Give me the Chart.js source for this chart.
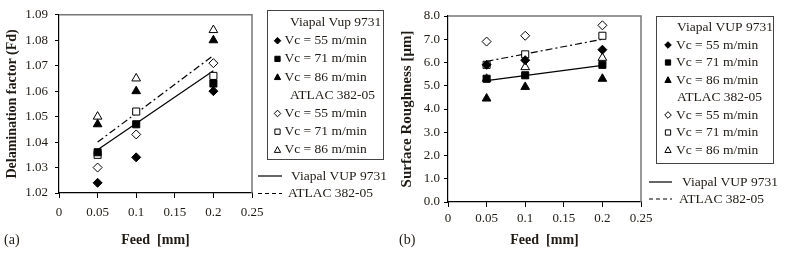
<!DOCTYPE html>
<html>
<head>
<meta charset="utf-8">
<script src="https://cdn.jsdelivr.net/npm/chart.js"></script>
<style>
  body { margin: 0; background: #fff; width: 789px; height: 261px; overflow: hidden; position: relative; }
  .wrap { position: absolute; top: 0; height: 261px; }
  #wrapA { left: 0; width: 395px; }
  #wrapB { left: 395px; width: 394px; }
</style>
</head>
<body>
<div class="wrap" id="wrapA"><canvas id="chartA" width="395" height="261"></canvas></div>
<div class="wrap" id="wrapB"><canvas id="chartB" width="394" height="261"></canvas></div>
<script>
// feed values (x) and tick labels
const feed = [0.05, 0.1, 0.2];
const trendFeed = [0.05, 0.2];
const feedTicks = [0, 0.05, 0.1, 0.15, 0.2, 0.25];
const speedLabels = ['Vc = 55 m/min', 'Vc = 71 m/min', 'Vc = 86 m/min'];

// (a) delamination factor
const fdViapal55 = [1.024, 1.034, 1.060];
const fdViapal71 = [1.036, 1.047, 1.063];
const fdViapal86 = [1.047, 1.060, 1.080];
const fdAtlac55 = [1.030, 1.043, 1.071];
const fdAtlac71 = [1.035, 1.052, 1.066];
const fdAtlac86 = [1.050, 1.065, 1.084];
const fdTrendViapal = [1.037, 1.068];
const fdTrendAtlac = [1.040, 1.074];
const fdTicks = [1.02, 1.03, 1.04, 1.05, 1.06, 1.07, 1.08, 1.09];

// (b) surface roughness
const raViapal55 = [5.9, 6.1, 6.55];
const raViapal71 = [5.3, 5.45, 5.9];
const raViapal86 = [4.45, 4.95, 5.3];
const raAtlac55 = [6.9, 7.15, 7.6];
const raAtlac71 = [5.9, 6.35, 7.15];
const raAtlac86 = [5.3, 5.8, 6.2];
const raTrendViapal = [5.22, 5.88];
const raTrendAtlac = [6.05, 7.0];
const raTicks = [0, 1, 2, 3, 4, 5, 6, 7, 8];

const FONT = "'Liberation Serif', 'Times New Roman', serif";
const TXT = '#1f1a14';
const styles = ['rectRot', 'rect', 'triangle'];

function pts(xs, ys) {
  return xs.map((x, i) => ({ x: x, y: ys[i] }));
}

function markerSet(label, ys, idx, filled) {
  const st = styles[idx];
  const r = st === 'rectRot' ? 4.5 : 5;
  return {
    label: label,
    data: pts(feed, ys),
    showLine: false,
    pointStyle: st,
    pointRadius: r,
    pointHoverRadius: r,
    pointBackgroundColor: filled ? '#000' : '#fff',
    pointBorderColor: '#000',
    pointBorderWidth: 1,
    _filled: filled
  };
}

function trendSet(label, ys, dash) {
  return {
    label: label,
    data: pts(trendFeed, ys),
    showLine: true,
    borderColor: '#000',
    borderWidth: 1.2,
    borderDash: dash,
    pointRadius: 0,
    fill: false
  };
}

// draw a small legend marker by hand
function drawMarker(ctx, style, filled, x, y, r) {
  ctx.beginPath();
  if (style === 'rectRot') {
    ctx.moveTo(x, y - r); ctx.lineTo(x + r, y); ctx.lineTo(x, y + r); ctx.lineTo(x - r, y);
  } else if (style === 'rect') {
    ctx.rect(x - r * 0.8, y - r * 0.8, r * 1.6, r * 1.6);
  } else {
    ctx.moveTo(x, y - r); ctx.lineTo(x + r * 0.95, y + r * 0.75); ctx.lineTo(x - r * 0.95, y + r * 0.75);
  }
  ctx.closePath();
  ctx.fillStyle = filled ? '#000' : '#fff';
  ctx.fill();
  ctx.lineWidth = 1;
  ctx.strokeStyle = '#000';
  ctx.stroke();
}

// frame + legend + panel letter
const decorPlugin = {
  id: 'decor',
  afterDraw(chart, args, opts) {
    const ctx = chart.ctx;
    const a = chart.chartArea;
    ctx.save();
    // top + right frame
    ctx.strokeStyle = '#777';
    ctx.lineWidth = 1.5;
    ctx.beginPath();
    ctx.moveTo(a.left, a.top); ctx.lineTo(a.right, a.top); ctx.lineTo(a.right, a.bottom);
    ctx.stroke();

    const L = opts.legend;
    const ds = chart.data.datasets;
    ctx.strokeStyle = '#444';
    ctx.lineWidth = 1;
    ctx.strokeRect(L.box[0] + 0.5, L.box[1] + 0.5, L.box[2], L.box[3]);
    ctx.font = L.size + 'px ' + FONT;
    ctx.fillStyle = TXT;
    ctx.textBaseline = 'middle';
    ctx.textAlign = 'left';
    const rows = [L.groupTitles[0], 0, 1, 2, L.groupTitles[1], 3, 4, 5];
    rows.forEach((row, i) => {
      const y = L.y0 + i * L.dy;
      if (typeof row === 'string') {
        ctx.fillStyle = TXT;
        ctx.fillText(row, L.titleX, y);
      } else {
        const d = ds[row];
        drawMarker(ctx, d.pointStyle, d._filled, L.markX, y, L.markR);
        ctx.fillStyle = TXT;
        ctx.fillText(d.label, L.textX, y);
      }
    });
    // trend line keys
    const lines = [ds[6], ds[7]];
    lines.forEach((d, i) => {
      const y = L.lineY[i];
      ctx.beginPath();
      ctx.setLineDash(i === 0 ? [] : [4, 3]);
      ctx.strokeStyle = '#000';
      ctx.lineWidth = 1.2;
      ctx.moveTo(L.lineX[0], y); ctx.lineTo(L.lineX[1], y);
      ctx.stroke();
      ctx.setLineDash([]);
      ctx.fillStyle = TXT;
      ctx.fillText(d.label, L.lineTextX[i], y);
    });
    // panel letter
    ctx.font = '14px ' + FONT;
    ctx.fillText(opts.letter, opts.letterX, opts.letterY);
    ctx.restore();
  }
};

function makeChart(id, cfg) {
  const datasets = [
    markerSet(speedLabels[0], cfg.v55, 0, true),
    markerSet(speedLabels[1], cfg.v71, 1, true),
    markerSet(speedLabels[2], cfg.v86, 2, true),
    markerSet(speedLabels[0], cfg.a55, 0, false),
    markerSet(speedLabels[1], cfg.a71, 1, false),
    markerSet(speedLabels[2], cfg.a86, 2, false),
    trendSet('Viapal VUP 9731', cfg.tv, []),
    trendSet('ATLAC 382-05', cfg.ta, [7, 3, 2, 3])
  ];
  return new Chart(document.getElementById(id), {
    type: 'scatter',
    data: { datasets: datasets },
    options: {
      responsive: false,
      animation: false,
      devicePixelRatio: 1,
      events: [],
      layout: { padding: { top: cfg.padTop, right: cfg.padRight, left: 0, bottom: 0 } },
      scales: {
        x: {
          type: 'linear',
          min: 0, max: 0.25,
          afterBuildTicks: s => { s.ticks = feedTicks.map(v => ({ value: v })); },
          afterFit: s => { s.height = cfg.xHeight; },
          ticks: {
            color: TXT, padding: cfg.xTickPad, maxRotation: 0, autoSkip: false,
            font: { family: FONT, size: 13 },
            callback: v => String(+Number(v).toFixed(2))
          },
          grid: { display: true, drawOnChartArea: false, drawTicks: true, tickLength: 5, color: '#000' },
          border: { display: true, color: '#000', width: 1.2 },
          title: {
            display: true, text: 'Feed  [mm]', color: TXT,
            font: { family: FONT, size: 14, weight: 'bold' },
            padding: { top: 0, bottom: 12 }
          }
        },
        y: {
          type: 'linear',
          min: cfg.yTicks[0], max: cfg.yTicks[cfg.yTicks.length - 1],
          afterBuildTicks: s => { s.ticks = cfg.yTicks.map(v => ({ value: v })); },
          afterFit: s => { s.width = cfg.yWidth; },
          ticks: {
            color: TXT, padding: cfg.yTickPad, autoSkip: false,
            font: { family: FONT, size: 13 },
            callback: v => Number(v).toFixed(cfg.yDec)
          },
          grid: { display: true, drawOnChartArea: false, drawTicks: true, tickLength: 4, color: '#000' },
          border: { display: true, color: '#000', width: 1.2 },
          title: {
            display: true, text: cfg.yTitle, color: TXT,
            font: { family: FONT, size: cfg.yTitleSize, weight: 'bold' },
            padding: { top: cfg.yTitlePad, bottom: 0 }
          }
        }
      },
      plugins: {
        legend: { display: false },
        tooltip: { enabled: false },
        decor: {
          legend: cfg.legend,
          letter: cfg.letter, letterX: 4, letterY: 240
        }
      }
    },
    plugins: [decorPlugin]
  });
}

makeChart('chartA', {
  v55: fdViapal55, v71: fdViapal71, v86: fdViapal86,
  a55: fdAtlac55, a71: fdAtlac71, a86: fdAtlac86,
  tv: fdTrendViapal, ta: fdTrendAtlac,
  yTicks: fdTicks, yDec: 2, yTitle: 'Delamination factor (Fd)', yTitleSize: 14,
  padTop: 10, padRight: 143, xHeight: 68, yWidth: 59,
  xTickPad: 7, yTickPad: 7, yTitlePad: 4,
  letter: '(a)',
  legend: {
    box: [267, 10, 116, 149], size: 13.5,
    groupTitles: ['Viapal Vup 9731', 'ATLAC 382-05'],
    titleX: 290, markX: 277.5, markR: 3.3, textX: 284.5, y0: 22.5, dy: 18.2,
    lineY: [176, 193.5], lineX: [258, 282], lineTextX: [291, 288]
  }
});

makeChart('chartB', {
  v55: raViapal55, v71: raViapal71, v86: raViapal86,
  a55: raAtlac55, a71: raAtlac71, a86: raAtlac86,
  tv: raTrendViapal, ta: raTrendAtlac,
  yTicks: raTicks, yDec: 1, yTitle: 'Surface Roughness [\u03bcm]', yTitleSize: 15,
  padTop: 16, padRight: 148, xHeight: 59, yWidth: 53,
  xTickPad: 4, yTickPad: 4, yTitlePad: 3,
  letter: '(b)',
  legend: {
    box: [261, 16, 117, 147], size: 13.5,
    groupTitles: ['Viapal VUP 9731', 'ATLAC 382-05'],
    titleX: 282, markX: 273, markR: 3.3, textX: 281, y0: 27.5, dy: 17.5,
    lineY: [182, 199], lineX: [254, 277], lineTextX: [287, 284]
  }
});
</script>
</body>
</html>
